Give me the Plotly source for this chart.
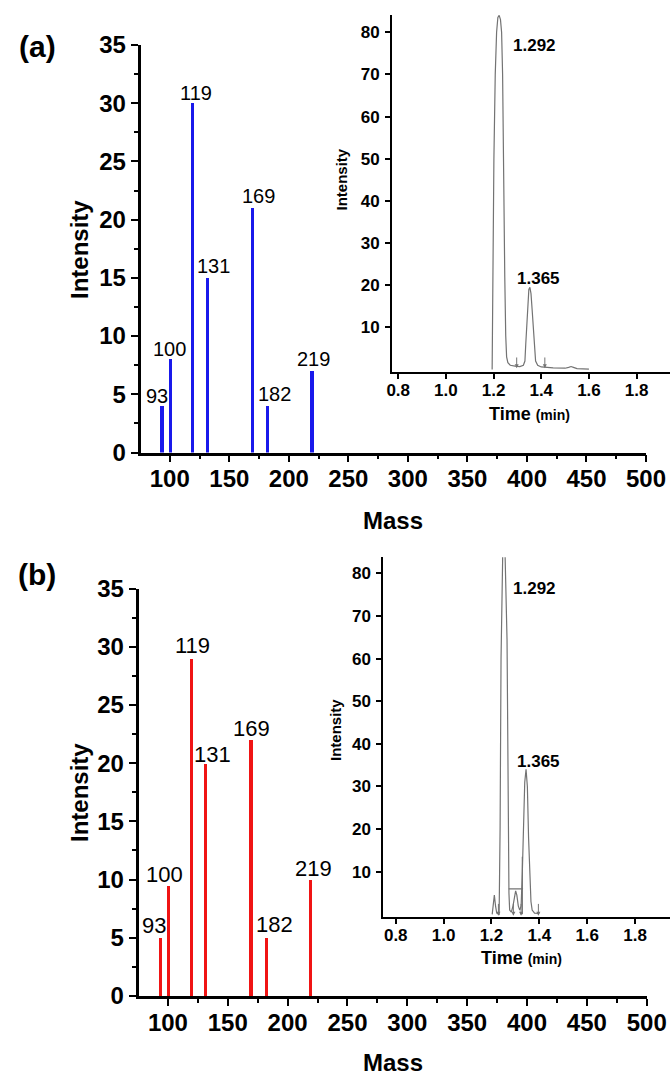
import plotly.graph_objects as go

# ---------------- data ----------------
masses = [93, 100, 119, 131, 169, 182, 219]
intensity_a = [4, 8, 30, 15, 21, 4, 7]
intensity_b = [5, 9.5, 29, 20, 22, 5, 10]
mass_ticks = [100, 150, 200, 250, 300, 350, 400, 450, 500]
intensity_ticks = [0, 5, 10, 15, 20, 25, 30, 35]

# chromatogram (a)
chrom_a_time = [1.194, 1.196, 1.1985, 1.2014, 1.207, 1.2127, 1.218, 1.2235, 1.229, 1.2337,
                1.2379, 1.2404, 1.2434, 1.247, 1.251, 1.2547, 1.26, 1.27, 1.29, 1.31,
                1.325, 1.3315, 1.335, 1.3385, 1.343, 1.348, 1.3524, 1.357, 1.362, 1.3664,
                1.371, 1.3763, 1.385, 1.40, 1.45, 1.50, 1.515, 1.525, 1.535, 1.55, 1.60]
chrom_a_int = [0, 15, 40, 50, 70, 80, 83.5, 84, 83, 80,
               70, 50, 40, 22, 8, 3, 1.6, 1.0, 0.8, 0.7,
               1.0, 2, 6, 10, 16, 19, 19.5, 18, 14, 10,
               5, 2, 1.0, 0.6, 0.4, 0.3, 0.5, 0.7, 0.5, 0.2, 0.1]
arrows_a_time = [1.297, 1.415]

# chromatogram (b)
chrom_b_time = [1.203, 1.207, 1.212, 1.217, 1.222, 1.232, 1.236, 1.240, 1.2435, 1.250,
                1.257, 1.262, 1.2639, 1.265, 1.267, 1.270, 1.273, 1.276, 1.283, 1.290,
                1.296, 1.301, 1.306, 1.312, 1.318, 1.324, 1.329, 1.334, 1.339, 1.3445,
                1.350, 1.355, 1.360, 1.365, 1.370, 1.380, 1.40]
chrom_b_int = [0, 2, 4.5, 2, 0.3, 0, 20, 60, 84, 95,
               84, 70, 66, 64.5, 50, 20, 5, 1, 0.5, 2,
               4.5, 5.5, 4.5, 2, 1, 2, 10, 22, 31, 34,
               30, 18, 8, 3, 1, 0.3, 0.2]
baseline_b_time = [1.272, 1.332]
baseline_b_int = [6, 6]
drop_b_time = [1.329, 1.329]
drop_b_int = [0, 13.5]
arrows_b_time = [1.229, 1.2915, 1.3237, 1.396]

time_ticks = [0.8, 1.0, 1.2, 1.4, 1.6, 1.8]
chrom_int_ticks = [10, 20, 30, 40, 50, 60, 70, 80]
peak_labels = ["1.292", "1.365"]
peak_label_a_pos = [(1.373, 76.8), (1.390, 21.5)]
peak_label_b_pos = [(1.378, 76.4), (1.395, 35.75)]

# ---------------- styles ----------------
W, H = 670, 1076
FONT = "Liberation Sans, Arial, sans-serif"
BLUE = "rgb(25,25,235)"
RED = "rgb(240,20,20)"
GRAY = "rgb(115,115,115)"

def fx(p):
    return p / W

def fy(p):
    return 1 - p / H

fig = go.Figure()

fig.add_trace(go.Bar(x=masses, y=intensity_a, width=2.6, marker=dict(color=BLUE, line=dict(width=0)),
                     xaxis="x", yaxis="y", showlegend=False))
fig.add_trace(go.Bar(x=masses, y=intensity_b, width=2.6, marker=dict(color=RED, line=dict(width=0)),
                     xaxis="x2", yaxis="y2", showlegend=False))

fig.add_trace(go.Scatter(x=chrom_a_time, y=chrom_a_int, mode="lines",
                         line=dict(color=GRAY, width=1.2), xaxis="x3", yaxis="y3", showlegend=False))
fig.add_trace(go.Scatter(x=chrom_b_time, y=chrom_b_int, mode="lines",
                         line=dict(color=GRAY, width=1.2), xaxis="x4", yaxis="y4", showlegend=False))
fig.add_trace(go.Scatter(x=baseline_b_time, y=baseline_b_int, mode="lines",
                         line=dict(color=GRAY, width=1.2), xaxis="x4", yaxis="y4", showlegend=False))
fig.add_trace(go.Scatter(x=drop_b_time, y=drop_b_int, mode="lines",
                         line=dict(color=GRAY, width=1.2), xaxis="x4", yaxis="y4", showlegend=False))

ann = []
# bar labels
off_a = [(-4, 0), (0, 0), (4, 0), (7, 2), (7, 2), (7, 2), (2, 2)]
off_b = [(-6, 1), (-3, -1), (2, 1), (7, -3), (1, 0), (8, 2), (3, 0)]
for m, v, (dx, dy) in zip(masses, intensity_a, off_a):
    ann.append(dict(x=m, y=v, xref="x", yref="y", text=str(m), showarrow=False,
                    yanchor="bottom", xanchor="center", xshift=dx, yshift=dy - 3,
                    font=dict(family=FONT, size=20, color="black")))
for m, v, (dx, dy) in zip(masses, intensity_b, off_b):
    ann.append(dict(x=m, y=v, xref="x2", yref="y2", text=str(m), showarrow=False,
                    yanchor="bottom", xanchor="center", xshift=dx, yshift=dy - 3,
                    font=dict(family=FONT, size=22, color="black")))

# inset peak labels
for t, (px, py) in zip(peak_labels, peak_label_a_pos):
    ann.append(dict(x=px, y=py, xref="x3", yref="y3", text="<b>%s</b>" % t, showarrow=False,
                    font=dict(family=FONT, size=17, color="black")))
for t, (px, py) in zip(peak_labels, peak_label_b_pos):
    ann.append(dict(x=px, y=py, xref="x4", yref="y4", text="<b>%s</b>" % t, showarrow=False,
                    font=dict(family=FONT, size=17, color="black")))

# small arrows
for t in arrows_a_time:
    ann.append(dict(x=t, y=0.3, ax=t, ay=3.2, xref="x3", yref="y3", axref="x3", ayref="y3",
                    text="", showarrow=True, arrowhead=2, arrowsize=0.8, arrowwidth=1,
                    arrowcolor=GRAY))
for t in arrows_b_time:
    ann.append(dict(x=t, y=-0.3, ax=t, ay=2.8, xref="x4", yref="y4", axref="x4", ayref="y4",
                    text="", showarrow=True, arrowhead=2, arrowsize=0.8, arrowwidth=1,
                    arrowcolor=GRAY))

# titles / panel letters
def txt(x, y, s, size, angle=0, bold=True):
    return dict(x=fx(x), y=fy(y), xref="paper", yref="paper", text=("<b>%s</b>" % s) if bold else s,
                showarrow=False, textangle=angle, xanchor="center", yanchor="middle",
                font=dict(family=FONT, size=size, color="black"))

ann += [
    txt(37, 47, "(a)", 30),
    txt(37, 574, "(b)", 30),
    txt(79, 250, "Intensity", 24, -90),
    txt(79, 793, "Intensity", 24, -90),
    txt(393, 520, "Mass", 24),
    txt(393, 1062, "Mass", 24),
    txt(341.5, 180, "Intensity", 15, -90),
    txt(335, 730, "Intensity", 15, -90),
    txt(529, 414, "Time <span style='font-size:14px'>(min)</span>", 18),
    txt(521, 958, "Time <span style='font-size:14px'>(min)</span>", 18),
]

main_x = dict(range=[75.4, 500], tickvals=mass_ticks, ticks="outside", ticklen=7, tickwidth=2,
              tickcolor="black", showline=True, linecolor="black", linewidth=2.5, showgrid=False,
              zeroline=False, automargin=False, ticklabelstandoff=-4,
              tickfont=dict(family=FONT, size=24, color="black", weight="bold"),
              minor=dict(tickvals=[125, 175, 225, 275, 325, 375, 425, 475], ticks="outside",
                         ticklen=4, tickwidth=2, tickcolor="black"))
main_y = dict(range=[0, 35], tickvals=intensity_ticks, ticks="outside", ticklen=7, tickwidth=2,
              tickcolor="black", showline=True, linecolor="black", linewidth=2.5, showgrid=False,
              zeroline=False, automargin=False,
              tickfont=dict(family=FONT, size=24, color="black", weight="bold"),
              minor=dict(tickvals=[2.5, 7.5, 12.5, 17.5, 22.5, 27.5, 32.5], ticks="outside",
                         ticklen=4, tickwidth=2, tickcolor="black"))
ins_x = dict(tickvals=time_ticks, ticktext=["%.1f" % v for v in time_ticks], ticks="outside",
             ticklen=5, tickwidth=1.5, tickcolor="black", showline=True, linecolor="black",
             linewidth=2, showgrid=False, zeroline=False, automargin=False, ticklabelstandoff=-3,
             tickfont=dict(family=FONT, size=17, color="black", weight="bold"))
ins_y = dict(tickvals=chrom_int_ticks, ticks="outside", ticklen=5, tickwidth=1.5, tickcolor="black",
             showline=True, linecolor="black", linewidth=2, showgrid=False, zeroline=False,
             automargin=False, ticklabelstandoff=2,
             tickfont=dict(family=FONT, size=17, color="black", weight="bold"))

fig.update_layout(
    template="none",
    width=W, height=H, margin=dict(l=0, r=0, t=0, b=0, pad=0, autoexpand=False),
    paper_bgcolor="white", plot_bgcolor="rgba(0,0,0,0)",
    showlegend=False, bargap=0,
    xaxis=dict(main_x, domain=[fx(140.5), fx(646)], anchor="y"),
    yaxis=dict(main_y, domain=[fy(452.5), fy(45)], anchor="x"),
    xaxis2=dict(main_x, domain=[fx(138.5), fx(646.7)], anchor="y2"),
    yaxis2=dict(main_y, domain=[fy(996), fy(588.5)], anchor="x2"),
    xaxis3=dict(ins_x, range=[0.774, 1.94], domain=[fx(392), 1.0], anchor="y3"),
    yaxis3=dict(ins_y, range=[-0.6, 84.1], domain=[fy(372), fy(15)], anchor="x3"),
    xaxis4=dict(ins_x, range=[0.748, 1.946], domain=[fx(383.3), 1.0], anchor="y4"),
    yaxis4=dict(ins_y, range=[-0.55, 83.75], domain=[fy(916.7), fy(557.3)], anchor="x4"),
    annotations=ann,
)

fig.write_html("out.html", config={"displayModeBar": False},
               post_script="document.body.style.margin='0px';document.body.style.padding='0px';"
                           "document.body.style.overflow='hidden';")
